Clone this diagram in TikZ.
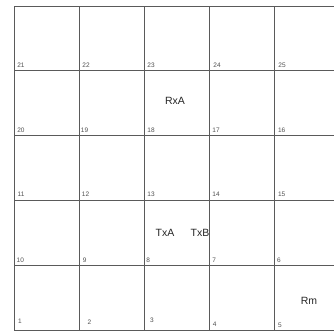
\documentclass[tikz,border=0pt]{standalone}
\usepackage{fontspec}
\setmainfont{Liberation Sans}
\definecolor{gridc}{HTML}{5A5A5A}
\definecolor{numc}{HTML}{505050}
\tikzset{
  gridline/.style={draw=gridc, line width=0.9pt},
  num/.style={text=numc, font=\fontsize{6.5}{7}\selectfont, inner sep=0pt, anchor=center},
  big/.style={text=black!85, font=\fontsize{10.5}{12}\selectfont, inner sep=0pt, anchor=center}
}
\begin{document}
\begin{tikzpicture}[x=1pt,y=-1pt]
\clip (0,0) rectangle (334,333);
\fill[white] (0,0) rectangle (334,333);
% vertical lines
\foreach \xx in {14,79.3,144.7,209.7,274.7,339.7}
  \draw[gridline] (\xx,6) -- (\xx,330.3);
% horizontal lines
\foreach \yy in {6,70.7,135.7,200.3,265.3,330.3}
  \draw[gridline] (14,\yy) -- (340,\yy);
% cell numbers
\node[num] (n21) at (21,65.3) {21};
\node[num] (n22) at (86,65.3) {22};
\node[num] (n23) at (151,65.3) {23};
\node[num] (n24) at (217,65.3) {24};
\node[num] (n25) at (282,65.3) {25};
\node[num] (n20) at (21,130) {20};
\node[num] (n19) at (84.5,130) {19};
\node[num] (n18) at (151,130) {18};
\node[num] (n17) at (216,130) {17};
\node[num] (n16) at (281.7,130) {16};
\node[num] (n11) at (21,194.5) {11};
\node[num] (n12) at (85.5,194.5) {12};
\node[num] (n13) at (151,194.7) {13};
\node[num] (n14) at (216,194.7) {14};
\node[num] (n15) at (281.7,194.7) {15};
\node[num] (n10) at (20.3,260.3) {10};
\node[num] (n9) at (84.7,260.3) {9};
\node[num] (n8) at (148.3,260.3) {8};
\node[num] (n7) at (214.3,260) {7};
\node[num] (n6) at (279,260) {6};
\node[num] (n1) at (20,321) {1};
\node[num] (n2) at (89.5,322) {2};
\node[num] (n3) at (152,320.3) {3};
\node[num] (n4) at (214.8,324.3) {4};
\node[num] (n5) at (280,325.3) {5};
% big labels
\node[big] (rxa) at (175,101) {RxA};
\node[big] (txa) at (165,233) {TxA};
\node[big] (txb) at (200,233) {TxB};
\node[big] (rm) at (309,301) {Rm};
\end{tikzpicture}
\end{document}
